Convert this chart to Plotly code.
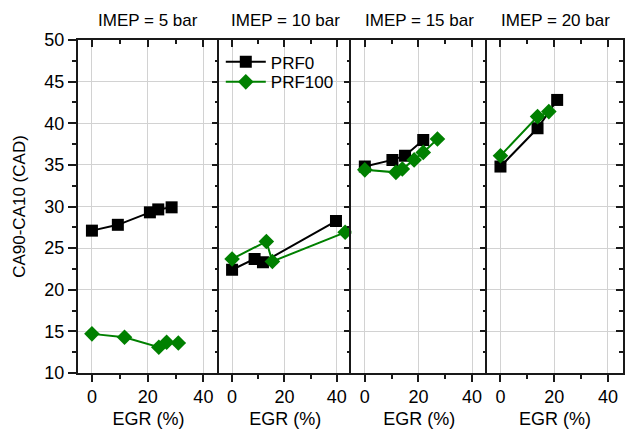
import plotly.graph_objects as go

imep_labels = ["IMEP = 5 bar", "IMEP = 10 bar", "IMEP = 15 bar", "IMEP = 20 bar"]

prf0_egr_5 = [0, 9.3, 20.8, 23.8, 28.6]
prf0_cad_5 = [27.1, 27.8, 29.3, 29.65, 29.9]
prf100_egr_5 = [0, 11.7, 24.0, 26.8, 31.0]
prf100_cad_5 = [14.7, 14.3, 13.1, 13.7, 13.6]

prf0_egr_10 = [0, 8.6, 11.8, 39.7]
prf0_cad_10 = [22.4, 23.7, 23.3, 28.25]
prf100_egr_10 = [0, 13.1, 15.4, 43.2]
prf100_cad_10 = [23.7, 25.8, 23.4, 26.9]

prf0_egr_15 = [0, 10.3, 15.0, 21.8]
prf0_cad_15 = [34.8, 35.6, 36.1, 38.0]
prf100_egr_15 = [0, 11.6, 14.0, 18.4, 21.8, 27.1]
prf100_cad_15 = [34.4, 34.1, 34.5, 35.6, 36.5, 38.1]

prf0_egr_20 = [0, 13.8, 21.1]
prf0_cad_20 = [34.8, 39.4, 42.8]
prf100_egr_20 = [0, 13.8, 18.0]
prf100_cad_20 = [36.1, 40.8, 41.4]

panels = [
    (prf0_egr_5, prf0_cad_5, prf100_egr_5, prf100_cad_5),
    (prf0_egr_10, prf0_cad_10, prf100_egr_10, prf100_cad_10),
    (prf0_egr_15, prf0_cad_15, prf100_egr_15, prf100_cad_15),
    (prf0_egr_20, prf0_cad_20, prf100_egr_20, prf100_cad_20),
]

domains = [[0.0, 0.2587], [0.2587, 0.5017], [0.5017, 0.7505], [0.7505, 1.0]]
x_range = [-5.0, 45.6]
y_range = [10, 50]

FONT = "Liberation Sans, Arial, sans-serif"
GREEN = "rgb(0,128,0)"
GRID = "rgb(210,210,210)"
LINE = "rgb(25,25,25)"

fig = go.Figure()
layout = {}
annotations = []

for i, (x0, y0, x1, y1) in enumerate(panels):
    xb = 2 * i + 1
    xt = 2 * i + 2
    yl = 2 * i + 1
    yr = 2 * i + 2
    xb_name = "x" if xb == 1 else f"x{xb}"
    xt_name = f"x{xt}"
    yl_name = "y" if yl == 1 else f"y{yl}"
    yr_name = f"y{yr}"

    fig.add_trace(go.Scatter(
        x=x0, y=y0, mode="lines+markers", name="PRF0",
        line=dict(color="black", width=2),
        marker=dict(symbol="square", size=12, color="black"),
        xaxis=xb_name, yaxis=yl_name, showlegend=(i == 0), legend="legend"))
    fig.add_trace(go.Scatter(
        x=x1, y=y1, mode="lines+markers", name="PRF100",
        line=dict(color=GREEN, width=2),
        marker=dict(symbol="diamond", size=12, color=GREEN),
        xaxis=xb_name, yaxis=yl_name, showlegend=(i == 0), legend="legend2"))
    # helper traces so the mirror axes are drawn
    fig.add_trace(go.Scatter(x=[None], y=[None], xaxis=xt_name, yaxis=yl_name,
                             showlegend=False, hoverinfo="skip"))
    fig.add_trace(go.Scatter(x=[None], y=[None], xaxis=xb_name, yaxis=yr_name,
                             showlegend=False, hoverinfo="skip"))

    layout["xaxis" if xb == 1 else f"xaxis{xb}"] = dict(
        domain=domains[i], range=x_range, anchor=yl_name,
        tickmode="array", tickvals=[0, 20, 40],
        ticks="outside", ticklen=7, tickwidth=1.5, tickcolor=LINE,
        minor=dict(tickmode="array", tickvals=[10, 30], ticks="outside",
                   ticklen=4, tickwidth=1.5, tickcolor=LINE, showgrid=False),
        showgrid=True, gridcolor=GRID, gridwidth=1, zeroline=False,
        showline=True, linecolor=LINE, linewidth=1.5,
        tickfont=dict(size=18, color="black"),
        title=dict(text="EGR (%)", font=dict(size=18, color="black"), standoff=6),
    )
    layout[f"xaxis{xt}"] = dict(
        domain=domains[i], range=x_range, anchor=yl_name, overlaying=xb_name,
        side="top", tickmode="array", tickvals=[0, 20, 40],
        ticks="inside", ticklen=7, tickwidth=1.5, tickcolor=LINE,
        minor=dict(tickmode="array", tickvals=[10, 30], ticks="inside",
                   ticklen=4, tickwidth=1.5, tickcolor=LINE, showgrid=False),
        showticklabels=False, showgrid=False, zeroline=False,
        showline=True, linecolor=LINE, linewidth=1.5,
    )
    ly = dict(
        domain=[0, 1], range=y_range, anchor=xb_name,
        tickmode="linear", tick0=10, dtick=5,
        showgrid=True, gridcolor=GRID, gridwidth=1, zeroline=False,
        showline=True, linecolor=LINE, linewidth=2,
        tickfont=dict(size=18, color="black"),
    )
    if i == 0:
        ly.update(ticks="outside", ticklen=8, tickwidth=1.5, tickcolor=LINE,
                  minor=dict(tickmode="linear", tick0=12.5, dtick=5, ticks="outside",
                             ticklen=4, tickwidth=1.5, tickcolor=LINE, showgrid=False),
                  title=dict(text="CA90-CA10 (CAD)", font=dict(size=17, color="black"),
                             standoff=14))
    else:
        ly.update(ticks="", showticklabels=False)
    layout["yaxis" if yl == 1 else f"yaxis{yl}"] = ly
    layout[f"yaxis{yr}"] = dict(
        domain=[0, 1], range=y_range, anchor=xb_name, overlaying=yl_name,
        side="right", tickmode="linear", tick0=10, dtick=5,
        ticks="inside", ticklen=7, tickwidth=1.5, tickcolor=LINE,
        minor=dict(tickmode="linear", tick0=12.5, dtick=5, ticks="inside",
                   ticklen=4, tickwidth=1.5, tickcolor=LINE, showgrid=False),
        showticklabels=False, showgrid=False, zeroline=False,
        showline=(i == 3), linecolor=LINE, linewidth=2,
    )
    annotations.append(dict(
        text=imep_labels[i], xref="paper", yref="paper",
        x=(domains[i][0] + domains[i][1]) / 2, y=1.0, yshift=20,
        xanchor="center", yanchor="middle", showarrow=False,
        font=dict(size=17, color="black")))

legend_common = dict(xanchor="left", yanchor="middle", bgcolor="rgba(255,255,255,0)",
                     borderwidth=0, font=dict(size=17), itemwidth=40)

fig.update_layout(
    **layout,
    annotations=annotations,
    width=630, height=435,
    margin=dict(l=78, r=7, t=40, b=62),
    paper_bgcolor="white", plot_bgcolor="white",
    font=dict(family=FONT, color="black"),
    legend=dict(x=0.262, y=0.933, **legend_common),
    legend2=dict(x=0.262, y=0.873, **legend_common),
)

fig.write_html("out.html")
